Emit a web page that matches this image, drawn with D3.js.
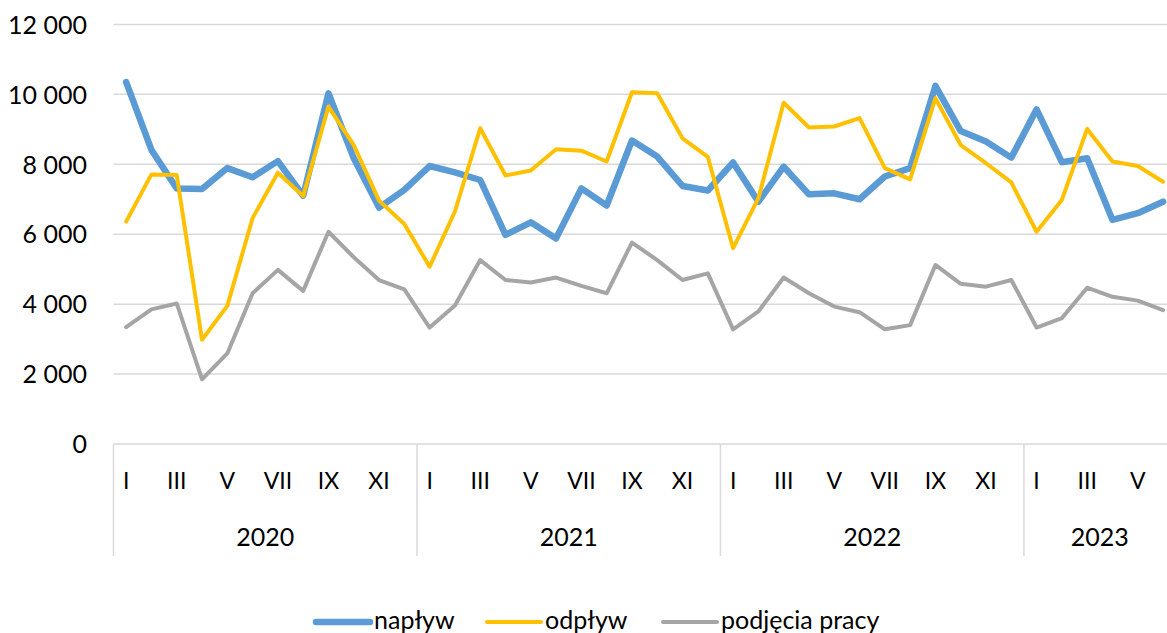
<!DOCTYPE html>
<html>
<head>
<meta charset="utf-8">
<script src="https://cdn.jsdelivr.net/npm/d3@7"></script>
<style>
  html, body { margin: 0; padding: 0; background: #fff; }
  svg { display: block; }
  text { font-family: Lato, "Open Sans", sans-serif; fill: #000; }
</style>
</head>
<body>
<svg id="chart" width="1167" height="633"></svg>
<script>
// Monthly labour-market flows, January 2020 – June 2023
const years = [2020, 2021, 2022, 2023];
const monthsPerYear = [12, 12, 12, 6];
const romanMonths = ["I", "II", "III", "IV", "V", "VI", "VII", "VIII", "IX", "X", "XI", "XII"];
const yTicks = [0, 2000, 4000, 6000, 8000, 10000, 12000];

const seriesNames = ["napływ", "odpływ", "podjęcia pracy"];

const naplyw = [
  10350, 8410, 7310, 7290, 7890, 7630, 8090, 7100, 10030, 8170, 6760, 7270,
  7950, 7770, 7550, 5980, 6340, 5880, 7310, 6820, 8680, 8220, 7380, 7250,
  8050, 6930, 7930, 7140, 7170, 7000, 7650, 7890, 10240, 8950, 8650, 8190,
  9570, 8060, 8170, 6410, 6600, 6930
];
const odplyw = [
  6360, 7710, 7690, 2980, 3950, 6460, 7760, 7090, 9650, 8550, 6960, 6290,
  5070, 6650, 9030, 7680, 7820, 8430, 8390, 8080, 10060, 10030, 8740, 8210,
  5600, 7030, 9760, 9050, 9080, 9320, 7890, 7570, 9890, 8550, 8030, 7480,
  6070, 6980, 9010, 8080, 7950, 7500
];
const podjecia = [
  3340, 3850, 4020, 1850, 2590, 4310, 4980, 4380, 6070, 5340, 4690, 4420,
  3330, 3960, 5260, 4690, 4620, 4760, 4520, 4310, 5760, 5260, 4690, 4880,
  3280, 3790, 4760, 4310, 3930, 3770, 3280, 3400, 5120, 4580, 4500, 4690,
  3330, 3600, 4470, 4210, 4100, 3830
];

// month keys: one per data point
const months = [];
years.forEach((yv, yi) => {
  for (let m = 0; m < monthsPerYear[yi]; m++) {
    months.push({ key: yv + "-" + (m + 1), year: yv, m: m, label: romanMonths[m] });
  }
});

const series = [
  { name: seriesNames[0], values: naplyw,   color: "#5B9BD5", width: 6.5 },
  { name: seriesNames[1], values: odplyw,   color: "#FFC000", width: 4 },
  { name: seriesNames[2], values: podjecia, color: "#A5A5A5", width: 4 }
];

const svg = d3.select("#chart");
const plotLeft = 113.5, plotTop = 24.4, plotBottom = 444;
const monthW = 25.29;
const plotRight = plotLeft + months.length * monthW;

const x = d3.scaleBand()
  .domain(months.map(d => d.key))
  .range([plotLeft, plotRight])
  .paddingInner(0).paddingOuter(0);
const xc = k => x(k) + x.bandwidth() / 2;

const y = d3.scaleLinear().domain([0, 12000]).range([plotBottom, plotTop]);

const fmt = d3.formatLocale({ decimal: ",", thousands: " ", grouping: [3], currency: ["", " zł"] }).format(",");

const gridColor = "#d9d9d9";

// horizontal gridlines
svg.append("g")
  .selectAll("line")
  .data(yTicks.filter(t => t > 0))
  .join("line")
  .attr("x1", plotLeft).attr("x2", 1167)
  .attr("y1", d => y(d)).attr("y2", d => y(d))
  .attr("stroke", gridColor).attr("stroke-width", 1.5);

// y axis labels
const yAxis = d3.axisLeft(y).tickValues(yTicks).tickFormat(fmt).tickSize(0).tickPadding(0);
const yg = svg.append("g").attr("transform", "translate(87,0)").call(yAxis);
yg.select(".domain").remove();
yg.selectAll("text")
  .attr("font-size", 25)
  .attr("font-family", "Lato, sans-serif")
  .attr("fill", "#000")
  .attr("dy", "0.35em");

// category axis: baseline, year separators, month and year labels
svg.append("line")
  .attr("x1", plotLeft).attr("x2", 1167)
  .attr("y1", plotBottom).attr("y2", plotBottom)
  .attr("stroke", gridColor).attr("stroke-width", 1.5);

const yearSpans = [];
let idx = 0;
years.forEach((yv, yi) => {
  yearSpans.push({ year: yv, first: months[idx].key, last: months[idx + monthsPerYear[yi] - 1].key });
  idx += monthsPerYear[yi];
});

svg.append("g")
  .selectAll("line")
  .data(yearSpans)
  .join("line")
  .attr("x1", d => x(d.first)).attr("x2", d => x(d.first))
  .attr("y1", plotBottom).attr("y2", 556)
  .attr("stroke", gridColor).attr("stroke-width", 1.5);

svg.append("g")
  .selectAll("text")
  .data(months.filter(d => d.m % 2 === 0))
  .join("text")
  .attr("x", d => xc(d.key))
  .attr("y", 481)
  .attr("dy", "0.35em")
  .attr("text-anchor", "middle")
  .attr("font-size", 23)
  .text(d => d.label);

svg.append("g")
  .selectAll("text")
  .data(yearSpans)
  .join("text")
  .attr("x", d => (x(d.first) + x(d.last) + x.bandwidth()) / 2)
  .attr("y", 537)
  .attr("dy", "0.35em")
  .attr("text-anchor", "middle")
  .attr("font-size", 25)
  .text(d => d.year);

// series lines
const line = d3.line()
  .x((d, i) => xc(months[i].key))
  .y(d => y(d));

svg.append("g")
  .selectAll("path")
  .data(series)
  .join("path")
  .attr("d", s => line(s.values))
  .attr("fill", "none")
  .attr("stroke", s => s.color)
  .attr("stroke-width", s => s.width)
  .attr("stroke-linejoin", "round")
  .attr("stroke-linecap", "round");

// legend
const legendItems = [
  { s: series[0], x0: 316 },
  { s: series[1], x0: 487 },
  { s: series[2], x0: 663 }
];
const lg = svg.append("g");
legendItems.forEach(it => {
  lg.append("line")
    .attr("x1", it.x0).attr("x2", it.x0 + 54)
    .attr("y1", 622).attr("y2", 622)
    .attr("stroke", it.s.color)
    .attr("stroke-width", it.s.width)
    .attr("stroke-linecap", "round");
  lg.append("text")
    .attr("x", it.x0 + 58)
    .attr("y", 620)
    .attr("dy", "0.35em")
    .attr("font-size", 25)
    .text(it.s.name);
});
</script>
</body>
</html>
